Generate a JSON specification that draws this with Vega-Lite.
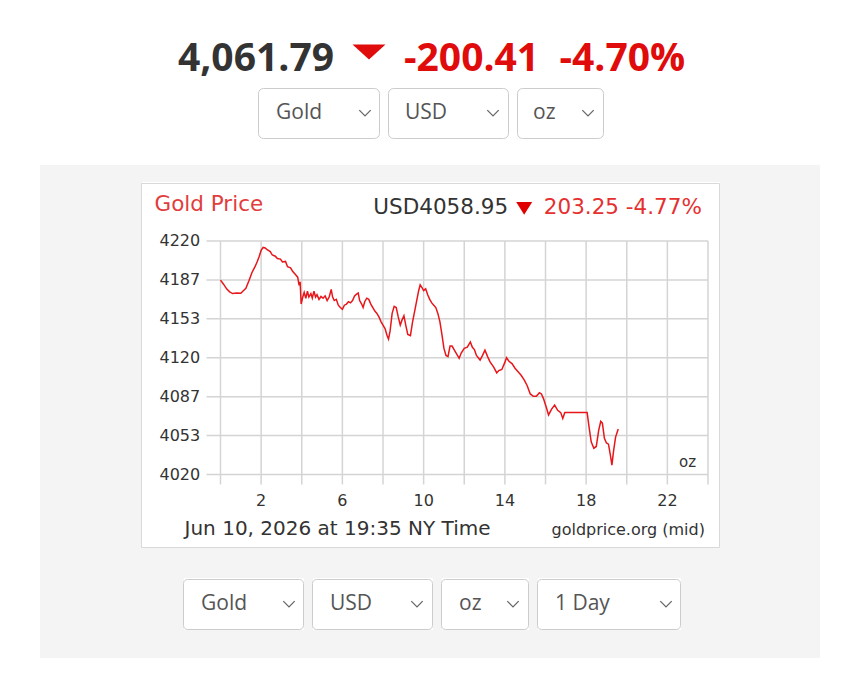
{
  "$schema": "https://vega.github.io/schema/vega-lite/v6.json",
  "background": "white",
  "padding": {"left": 40, "top": 31, "right": 0, "bottom": 0},
  "spacing": 0,
  "datasets": {
    "xticks": [
      {"hour": 0}, {"hour": 2}, {"hour": 4}, {"hour": 6}, {"hour": 8}, {"hour": 10}, {"hour": 12},
      {"hour": 14}, {"hour": 16}, {"hour": 18}, {"hour": 20}, {"hour": 22}, {"hour": 24}
    ],
    "yticks": [
      {"price": 4020}, {"price": 4053.333}, {"price": 4086.667}, {"price": 4120},
      {"price": 4153.333}, {"price": 4186.667}, {"price": 4220}
    ],
    "gold": [
      {"hour": 0.0, "price": 4186.5}, {"hour": 0.15, "price": 4183}, {"hour": 0.3, "price": 4179}, {"hour": 0.45, "price": 4176.5},
      {"hour": 0.6, "price": 4175}, {"hour": 0.8, "price": 4175.5}, {"hour": 1.0, "price": 4175.2}, {"hour": 1.1, "price": 4177},
      {"hour": 1.25, "price": 4179.5}, {"hour": 1.4, "price": 4186}, {"hour": 1.55, "price": 4193}, {"hour": 1.7, "price": 4198},
      {"hour": 1.8, "price": 4202}, {"hour": 1.9, "price": 4206.5}, {"hour": 2.0, "price": 4212}, {"hour": 2.1, "price": 4214.5},
      {"hour": 2.2, "price": 4214}, {"hour": 2.3, "price": 4212.5}, {"hour": 2.45, "price": 4211}, {"hour": 2.55, "price": 4208},
      {"hour": 2.7, "price": 4207}, {"hour": 2.8, "price": 4205}, {"hour": 2.95, "price": 4204.5}, {"hour": 3.05, "price": 4202},
      {"hour": 3.2, "price": 4202.5}, {"hour": 3.3, "price": 4198}, {"hour": 3.45, "price": 4197}, {"hour": 3.55, "price": 4194},
      {"hour": 3.7, "price": 4191}, {"hour": 3.8, "price": 4189}, {"hour": 3.87, "price": 4182}, {"hour": 3.92, "price": 4185},
      {"hour": 3.97, "price": 4166}, {"hour": 4.05, "price": 4172}, {"hour": 4.12, "price": 4176}, {"hour": 4.2, "price": 4171},
      {"hour": 4.28, "price": 4177}, {"hour": 4.35, "price": 4172}, {"hour": 4.45, "price": 4175}, {"hour": 4.52, "price": 4171},
      {"hour": 4.6, "price": 4177}, {"hour": 4.68, "price": 4172}, {"hour": 4.75, "price": 4174}, {"hour": 4.85, "price": 4170},
      {"hour": 4.95, "price": 4172.5}, {"hour": 5.05, "price": 4171}, {"hour": 5.15, "price": 4173}, {"hour": 5.25, "price": 4169},
      {"hour": 5.35, "price": 4172}, {"hour": 5.45, "price": 4178.5}, {"hour": 5.52, "price": 4172}, {"hour": 5.6, "price": 4169},
      {"hour": 5.7, "price": 4170}, {"hour": 5.8, "price": 4165}, {"hour": 5.9, "price": 4163}, {"hour": 6.0, "price": 4161.5},
      {"hour": 6.1, "price": 4165}, {"hour": 6.2, "price": 4166}, {"hour": 6.3, "price": 4168}, {"hour": 6.4, "price": 4167},
      {"hour": 6.5, "price": 4169}, {"hour": 6.6, "price": 4173}, {"hour": 6.7, "price": 4174.5}, {"hour": 6.78, "price": 4175.5},
      {"hour": 6.85, "price": 4169}, {"hour": 6.95, "price": 4166}, {"hour": 7.02, "price": 4163}, {"hour": 7.1, "price": 4168},
      {"hour": 7.2, "price": 4171}, {"hour": 7.3, "price": 4170}, {"hour": 7.4, "price": 4166}, {"hour": 7.5, "price": 4163},
      {"hour": 7.6, "price": 4160}, {"hour": 7.7, "price": 4158}, {"hour": 7.8, "price": 4155}, {"hour": 7.9, "price": 4151},
      {"hour": 8.0, "price": 4148}, {"hour": 8.1, "price": 4145}, {"hour": 8.2, "price": 4139}, {"hour": 8.27, "price": 4136},
      {"hour": 8.35, "price": 4143}, {"hour": 8.45, "price": 4158}, {"hour": 8.55, "price": 4164}, {"hour": 8.65, "price": 4163},
      {"hour": 8.75, "price": 4155}, {"hour": 8.85, "price": 4148}, {"hour": 8.93, "price": 4152}, {"hour": 9.03, "price": 4156},
      {"hour": 9.12, "price": 4148}, {"hour": 9.22, "price": 4140}, {"hour": 9.35, "price": 4139}, {"hour": 9.45, "price": 4150},
      {"hour": 9.55, "price": 4159}, {"hour": 9.65, "price": 4168}, {"hour": 9.75, "price": 4177}, {"hour": 9.83, "price": 4182.5},
      {"hour": 9.92, "price": 4180}, {"hour": 10.0, "price": 4177.5}, {"hour": 10.1, "price": 4179}, {"hour": 10.2, "price": 4174},
      {"hour": 10.3, "price": 4170}, {"hour": 10.4, "price": 4167}, {"hour": 10.5, "price": 4165}, {"hour": 10.6, "price": 4163},
      {"hour": 10.7, "price": 4158}, {"hour": 10.8, "price": 4151}, {"hour": 10.9, "price": 4140}, {"hour": 11.0, "price": 4128},
      {"hour": 11.1, "price": 4122}, {"hour": 11.2, "price": 4121}, {"hour": 11.3, "price": 4130}, {"hour": 11.4, "price": 4130},
      {"hour": 11.5, "price": 4127}, {"hour": 11.6, "price": 4124}, {"hour": 11.75, "price": 4119.5}, {"hour": 11.85, "price": 4124},
      {"hour": 12.0, "price": 4128}, {"hour": 12.15, "price": 4129}, {"hour": 12.3, "price": 4133.5}, {"hour": 12.4, "price": 4129},
      {"hour": 12.5, "price": 4127}, {"hour": 12.6, "price": 4122}, {"hour": 12.78, "price": 4118}, {"hour": 12.9, "price": 4122},
      {"hour": 13.02, "price": 4126.5}, {"hour": 13.15, "price": 4121}, {"hour": 13.27, "price": 4116.5}, {"hour": 13.45, "price": 4112},
      {"hour": 13.6, "price": 4107}, {"hour": 13.7, "price": 4109}, {"hour": 13.85, "price": 4110}, {"hour": 14.0, "price": 4116},
      {"hour": 14.08, "price": 4120}, {"hour": 14.2, "price": 4117}, {"hour": 14.35, "price": 4115}, {"hour": 14.5, "price": 4111},
      {"hour": 14.65, "price": 4108}, {"hour": 14.8, "price": 4105}, {"hour": 14.95, "price": 4101}, {"hour": 15.1, "price": 4096},
      {"hour": 15.25, "price": 4089}, {"hour": 15.4, "price": 4087}, {"hour": 15.55, "price": 4087}, {"hour": 15.7, "price": 4090},
      {"hour": 15.8, "price": 4089}, {"hour": 15.9, "price": 4085}, {"hour": 16.05, "price": 4077}, {"hour": 16.15, "price": 4071},
      {"hour": 16.3, "price": 4076}, {"hour": 16.45, "price": 4079.5}, {"hour": 16.6, "price": 4075}, {"hour": 16.75, "price": 4073},
      {"hour": 16.85, "price": 4068}, {"hour": 16.95, "price": 4073}, {"hour": 17.2, "price": 4073}, {"hour": 17.5, "price": 4073},
      {"hour": 17.8, "price": 4073}, {"hour": 18.05, "price": 4073}, {"hour": 18.15, "price": 4060}, {"hour": 18.25, "price": 4048},
      {"hour": 18.38, "price": 4042.5}, {"hour": 18.5, "price": 4044}, {"hour": 18.62, "price": 4058}, {"hour": 18.72, "price": 4065.5},
      {"hour": 18.8, "price": 4064}, {"hour": 18.9, "price": 4051}, {"hour": 19.0, "price": 4047}, {"hour": 19.1, "price": 4046},
      {"hour": 19.2, "price": 4036}, {"hour": 19.27, "price": 4028}, {"hour": 19.35, "price": 4040}, {"hour": 19.45, "price": 4052},
      {"hour": 19.58, "price": 4058.95}
    ]
  },
  "vconcat": [
    {
      "width": 780,
      "height": 56,
      "data": {"values": [
        {"part": "price", "label": "4,061.79"},
        {"part": "arrow", "label": ""},
        {"part": "change", "label": "-200.41\u00a0\u00a0-4.70%"}
      ]},
      "encoding": {
        "x": {"field": "part", "type": "nominal", "axis": null,
              "scale": {"type": "point", "padding": 0, "domain": ["price", "arrow", "change"], "range": [293, 363]}}
      },
      "layer": [
        {
          "transform": [{"filter": "datum.part === 'price'"}],
          "mark": {"type": "text", "align": "right", "baseline": "middle", "font": "Open Sans", "fontSize": 39, "fontWeight": "bold", "color": "#333333"},
          "encoding": {"text": {"field": "label"}}
        },
        {
          "transform": [{"filter": "datum.part === 'arrow'"}],
          "mark": {"type": "point", "shape": "M-1,-0.45L1,-0.45L0,0.45Z", "size": 1089, "filled": true, "color": "#e00b0b", "opacity": 1, "yOffset": -7}
        },
        {
          "transform": [{"filter": "datum.part === 'change'"}],
          "mark": {"type": "text", "align": "left", "baseline": "middle", "font": "Open Sans", "fontSize": 39, "fontWeight": "bold", "color": "#e00b0b"},
          "encoding": {"text": {"field": "label"}}
        }
      ]
    },
    {
      "bounds": "flush",
      "spacing": 9,
      "hconcat": [
        {"width": 208, "height": 50, "data": {"values": []}, "mark": "point"},
        {
          "width": 121, "height": 50,
          "view": {"fill": "#ffffff", "stroke": "#cccccc", "cornerRadius": 5},
          "data": {"values": [{"part": "label", "label": "Gold"}, {"part": "arrow", "label": ""}]},
          "encoding": {"x": {"field": "part", "type": "nominal", "axis": null, "scale": {"type": "point", "padding": 0, "domain": ["label", "arrow"], "range": [18, 107]}}},
          "layer": [
            {"transform": [{"filter": "datum.part === 'label'"}], "mark": {"type": "text", "align": "left", "baseline": "middle", "font": "Open Sans", "fontSize": 21, "color": "#555555"}, "encoding": {"text": {"field": "label"}}},
            {"transform": [{"filter": "datum.part === 'arrow'"}], "mark": {"type": "point", "shape": "M-1,-0.5L0,0.5L1,-0.5", "filled": false, "size": 130, "stroke": "#666666", "strokeWidth": 1.3, "opacity": 1}}
          ]
        },
        {
          "width": 120, "height": 50,
          "view": {"fill": "#ffffff", "stroke": "#cccccc", "cornerRadius": 5},
          "data": {"values": [{"part": "label", "label": "USD"}, {"part": "arrow", "label": ""}]},
          "encoding": {"x": {"field": "part", "type": "nominal", "axis": null, "scale": {"type": "point", "padding": 0, "domain": ["label", "arrow"], "range": [17, 105]}}},
          "layer": [
            {"transform": [{"filter": "datum.part === 'label'"}], "mark": {"type": "text", "align": "left", "baseline": "middle", "font": "Open Sans", "fontSize": 21, "color": "#555555"}, "encoding": {"text": {"field": "label"}}},
            {"transform": [{"filter": "datum.part === 'arrow'"}], "mark": {"type": "point", "shape": "M-1,-0.5L0,0.5L1,-0.5", "filled": false, "size": 130, "stroke": "#666666", "strokeWidth": 1.3, "opacity": 1}}
          ]
        },
        {
          "width": 86, "height": 50,
          "view": {"fill": "#ffffff", "stroke": "#cccccc", "cornerRadius": 5},
          "data": {"values": [{"part": "label", "label": "oz"}, {"part": "arrow", "label": ""}]},
          "encoding": {"x": {"field": "part", "type": "nominal", "axis": null, "scale": {"type": "point", "padding": 0, "domain": ["label", "arrow"], "range": [16, 71]}}},
          "layer": [
            {"transform": [{"filter": "datum.part === 'label'"}], "mark": {"type": "text", "align": "left", "baseline": "middle", "font": "Open Sans", "fontSize": 21, "color": "#555555"}, "encoding": {"text": {"field": "label"}}},
            {"transform": [{"filter": "datum.part === 'arrow'"}], "mark": {"type": "point", "shape": "M-1,-0.5L0,0.5L1,-0.5", "filled": false, "size": 130, "stroke": "#666666", "strokeWidth": 1.3, "opacity": 1}}
          ]
        }
      ]
    },
    {"width": 780, "height": 26, "data": {"values": []}, "mark": "point"},
    {"width": 778, "height": 15, "data": {"values": []}, "mark": "point", "view": {"fill": "#f4f4f4", "stroke": "#f4f4f4", "strokeWidth": 2}},
    {
      "bounds": "flush",
      "spacing": 0,
      "hconcat": [
        {"width": 100, "height": 364, "data": {"values": []}, "mark": "point", "view": {"fill": "#f4f4f4", "stroke": "#f4f4f4", "strokeWidth": 2}},
        {
          "width": 578,
          "height": 364,
          "view": {"fill": "#ffffff", "stroke": "#d9d9d9"},
          "layer": [
            {
              "data": {"name": "xticks"},
              "mark": {"type": "rule", "color": "#d4d4d4", "strokeWidth": 1.5},
              "encoding": {
                "x": {"field": "hour", "type": "quantitative", "axis": null,
                      "scale": {"domain": [0, 24], "range": [79.5, 567], "nice": false, "zero": false}},
                "y": {"datum": 4220, "type": "quantitative", "axis": null,
                      "scale": {"domain": [4020, 4220], "range": [291.5, 58], "nice": false, "zero": false}},
                "y2": {"datum": 4011.5}
              }
            },
            {
              "data": {"name": "yticks"},
              "mark": {"type": "rule", "color": "#d4d4d4", "strokeWidth": 1.5},
              "encoding": {
                "y": {"field": "price", "type": "quantitative"},
                "x": {"datum": -0.69, "type": "quantitative"},
                "x2": {"datum": 24}
              }
            },
            {
              "data": {"name": "xticks"},
              "transform": [{"filter": "(datum.hour - 2) % 4 === 0"}],
              "mark": {"type": "text", "align": "center", "baseline": "middle", "font": "DejaVu Sans", "fontSize": 16, "color": "#333333"},
              "encoding": {
                "x": {"field": "hour", "type": "quantitative"},
                "y": {"datum": 3997, "type": "quantitative"},
                "text": {"field": "hour", "type": "quantitative"}
              }
            },
            {
              "data": {"name": "yticks"},
              "mark": {"type": "text", "align": "right", "baseline": "middle", "font": "DejaVu Sans", "fontSize": 16, "color": "#333333"},
              "encoding": {
                "y": {"field": "price", "type": "quantitative"},
                "x": {"datum": -1.0, "type": "quantitative"},
                "text": {"field": "price", "type": "quantitative", "format": "d"}
              }
            },
            {
              "data": {"name": "gold"},
              "mark": {"type": "line", "color": "#e8161a", "strokeWidth": 1.5},
              "encoding": {
                "x": {"field": "hour", "type": "quantitative"},
                "y": {"field": "price", "type": "quantitative"}
              }
            },
            {
              "data": {"values": [{"label": "Gold Price"}]},
              "mark": {"type": "text", "align": "left", "baseline": "alphabetic", "font": "DejaVu Sans", "fontSize": 21.5, "color": "#e23d3d"},
              "encoding": {
                "x": {"datum": -3.25, "type": "quantitative"},
                "y": {"datum": 4246, "type": "quantitative"},
                "text": {"field": "label"}
              }
            },
            {
              "data": {"values": [{"label": "USD4058.95"}]},
              "mark": {"type": "text", "align": "right", "baseline": "alphabetic", "font": "DejaVu Sans", "fontSize": 21.5, "color": "#333333"},
              "encoding": {
                "x": {"datum": 14.16, "type": "quantitative"},
                "y": {"datum": 4243, "type": "quantitative"},
                "text": {"field": "label"}
              }
            },
            {
              "data": {"values": [{"label": "down"}]},
              "mark": {"type": "point", "shape": "M-1,-0.8L1,-0.8L0,0.8Z", "size": 256, "filled": true, "color": "#e00000", "opacity": 1},
              "encoding": {
                "x": {"datum": 14.95, "type": "quantitative"},
                "y": {"datum": 4248, "type": "quantitative"}
              }
            },
            {
              "data": {"values": [{"label": "203.25 -4.77%"}]},
              "mark": {"type": "text", "align": "right", "baseline": "alphabetic", "font": "DejaVu Sans", "fontSize": 21.5, "color": "#e53030"},
              "encoding": {
                "x": {"datum": 23.7, "type": "quantitative"},
                "y": {"datum": 4243, "type": "quantitative"},
                "text": {"field": "label"}
              }
            },
            {
              "data": {"values": [{"label": "oz"}]},
              "mark": {"type": "text", "align": "right", "baseline": "alphabetic", "font": "DejaVu Sans", "fontSize": 15, "color": "#333333"},
              "encoding": {
                "x": {"datum": 23.41, "type": "quantitative"},
                "y": {"datum": 4026, "type": "quantitative"},
                "text": {"field": "label"}
              }
            },
            {
              "data": {"values": [{"label": "Jun 10, 2026 at 19:35 NY Time"}]},
              "mark": {"type": "text", "align": "left", "baseline": "alphabetic", "font": "DejaVu Sans", "fontSize": 20, "color": "#333333"},
              "encoding": {
                "x": {"datum": -1.77, "type": "quantitative"},
                "y": {"datum": 3968.5, "type": "quantitative"},
                "text": {"field": "label"}
              }
            },
            {
              "data": {"values": [{"label": "goldprice.org (mid)"}]},
              "mark": {"type": "text", "align": "right", "baseline": "alphabetic", "font": "DejaVu Sans", "fontSize": 16, "color": "#333333"},
              "encoding": {
                "x": {"datum": 23.85, "type": "quantitative"},
                "y": {"datum": 3968.5, "type": "quantitative"},
                "text": {"field": "label"}
              }
            }
          ]
        },
        {"width": 2, "height": 364, "data": {"values": []}, "mark": "point"},
        {"width": 98, "height": 364, "data": {"values": []}, "mark": "point", "view": {"fill": "#f4f4f4", "stroke": "#f4f4f4", "strokeWidth": 2}}
      ]
    },
    {"width": 778, "height": 28, "data": {"values": []}, "mark": "point", "view": {"fill": "#f4f4f4", "stroke": "#f4f4f4", "strokeWidth": 2}},
    {
      "bounds": "flush",
      "spacing": 0,
      "hconcat": [
        {"width": 142, "height": 50, "data": {"values": []}, "mark": "point", "view": {"fill": "#f4f4f4", "stroke": "#f4f4f4", "strokeWidth": 2}},
        {
          "width": 120, "height": 50,
          "view": {"fill": "#ffffff", "stroke": "#cccccc", "cornerRadius": 4},
          "data": {"values": [{"part": "label", "label": "Gold"}, {"part": "arrow", "label": ""}]},
          "encoding": {"x": {"field": "part", "type": "nominal", "axis": null, "scale": {"type": "point", "padding": 0, "domain": ["label", "arrow"], "range": [18, 106]}}},
          "layer": [
            {"transform": [{"filter": "datum.part === 'label'"}], "mark": {"type": "text", "align": "left", "baseline": "middle", "font": "Open Sans", "fontSize": 21, "color": "#555555"}, "encoding": {"text": {"field": "label"}}},
            {"transform": [{"filter": "datum.part === 'arrow'"}], "mark": {"type": "point", "shape": "M-1,-0.5L0,0.5L1,-0.5", "filled": false, "size": 130, "stroke": "#666666", "strokeWidth": 1.3, "opacity": 1}}
          ]
        },
        {"width": 2, "height": 50, "data": {"values": []}, "mark": "point"},
        {"width": 7, "height": 50, "data": {"values": []}, "mark": "point", "view": {"fill": "#f4f4f4", "stroke": "#f4f4f4", "strokeWidth": 2}},
        {
          "width": 120, "height": 50,
          "view": {"fill": "#ffffff", "stroke": "#cccccc", "cornerRadius": 4},
          "data": {"values": [{"part": "label", "label": "USD"}, {"part": "arrow", "label": ""}]},
          "encoding": {"x": {"field": "part", "type": "nominal", "axis": null, "scale": {"type": "point", "padding": 0, "domain": ["label", "arrow"], "range": [18, 105]}}},
          "layer": [
            {"transform": [{"filter": "datum.part === 'label'"}], "mark": {"type": "text", "align": "left", "baseline": "middle", "font": "Open Sans", "fontSize": 21, "color": "#555555"}, "encoding": {"text": {"field": "label"}}},
            {"transform": [{"filter": "datum.part === 'arrow'"}], "mark": {"type": "point", "shape": "M-1,-0.5L0,0.5L1,-0.5", "filled": false, "size": 130, "stroke": "#666666", "strokeWidth": 1.3, "opacity": 1}}
          ]
        },
        {"width": 2, "height": 50, "data": {"values": []}, "mark": "point"},
        {"width": 7, "height": 50, "data": {"values": []}, "mark": "point", "view": {"fill": "#f4f4f4", "stroke": "#f4f4f4", "strokeWidth": 2}},
        {
          "width": 87, "height": 50,
          "view": {"fill": "#ffffff", "stroke": "#cccccc", "cornerRadius": 4},
          "data": {"values": [{"part": "label", "label": "oz"}, {"part": "arrow", "label": ""}]},
          "encoding": {"x": {"field": "part", "type": "nominal", "axis": null, "scale": {"type": "point", "padding": 0, "domain": ["label", "arrow"], "range": [18, 72]}}},
          "layer": [
            {"transform": [{"filter": "datum.part === 'label'"}], "mark": {"type": "text", "align": "left", "baseline": "middle", "font": "Open Sans", "fontSize": 21, "color": "#555555"}, "encoding": {"text": {"field": "label"}}},
            {"transform": [{"filter": "datum.part === 'arrow'"}], "mark": {"type": "point", "shape": "M-1,-0.5L0,0.5L1,-0.5", "filled": false, "size": 130, "stroke": "#666666", "strokeWidth": 1.3, "opacity": 1}}
          ]
        },
        {"width": 2, "height": 50, "data": {"values": []}, "mark": "point"},
        {"width": 7, "height": 50, "data": {"values": []}, "mark": "point", "view": {"fill": "#f4f4f4", "stroke": "#f4f4f4", "strokeWidth": 2}},
        {
          "width": 143, "height": 50,
          "view": {"fill": "#ffffff", "stroke": "#cccccc", "cornerRadius": 4},
          "data": {"values": [{"part": "label", "label": "1 Day"}, {"part": "arrow", "label": ""}]},
          "encoding": {"x": {"field": "part", "type": "nominal", "axis": null, "scale": {"type": "point", "padding": 0, "domain": ["label", "arrow"], "range": [18, 129]}}},
          "layer": [
            {"transform": [{"filter": "datum.part === 'label'"}], "mark": {"type": "text", "align": "left", "baseline": "middle", "font": "Open Sans", "fontSize": 21, "color": "#555555"}, "encoding": {"text": {"field": "label"}}},
            {"transform": [{"filter": "datum.part === 'arrow'"}], "mark": {"type": "point", "shape": "M-1,-0.5L0,0.5L1,-0.5", "filled": false, "size": 130, "stroke": "#666666", "strokeWidth": 1.3, "opacity": 1}}
          ]
        },
        {"width": 2, "height": 50, "data": {"values": []}, "mark": "point"},
        {"width": 137, "height": 50, "data": {"values": []}, "mark": "point", "view": {"fill": "#f4f4f4", "stroke": "#f4f4f4", "strokeWidth": 2}}
      ]
    },
    {"width": 778, "height": 26, "data": {"values": []}, "mark": "point", "view": {"fill": "#f4f4f4", "stroke": "#f4f4f4", "strokeWidth": 2}}
  ],
  "config": {
    "view": {"stroke": null},
    "font": "DejaVu Sans"
  }
}
